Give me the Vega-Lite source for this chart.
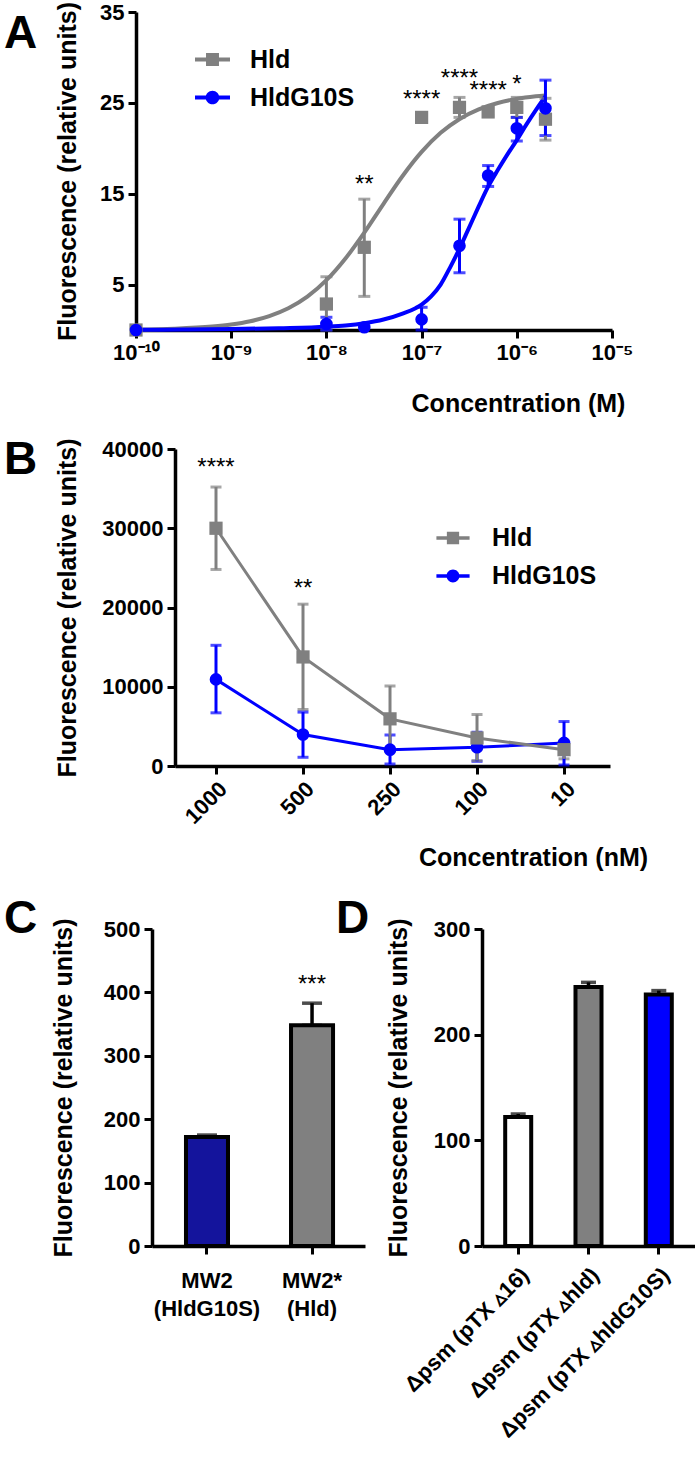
{
 "$schema": "https://vega.github.io/schema/vega-lite/v6.json",
 "background": "white",
 "padding": {"left": 4, "top": 1, "right": 0, "bottom": 0},
 "config": {
  "font": "Liberation Sans",
  "view": {"stroke": null},
  "axis": {"grid": false, "domainColor": "black", "domainWidth": 3.5, "tickColor": "black", "tickWidth": 3, "tickSize": 8, "labelFont": "Liberation Sans", "labelFontWeight": "bold", "labelFontSize": 22, "labelColor": "black", "labelPadding": 4, "titleFont": "Liberation Sans", "titleFontSize": 25, "titleFontWeight": "bold", "titleColor": "black", "labelOverlap": false, "labelFlush": false, "labelLimit": 400},
  "title": {"font": "Liberation Sans", "fontSize": 46, "fontWeight": "bold", "color": "black", "orient": "top", "anchor": "start", "frame": "group", "baseline": "alphabetic"},
  "text": {"font": "Liberation Sans"}
 },
 "datasets": {
  "curveA": [
   {"series":"Hld","conc":1e-10,"fit":0.055},{"series":"Hld","conc":2.512e-10,"fit":0.144},{"series":"Hld","conc":6.31e-10,"fit":0.375},{"series":"Hld","conc":1e-9,"fit":0.6},{"series":"Hld","conc":1.585e-9,"fit":0.96},{"series":"Hld","conc":2.512e-9,"fit":1.53},{"series":"Hld","conc":3.981e-9,"fit":2.39},{"series":"Hld","conc":6.31e-9,"fit":3.67},{"series":"Hld","conc":1e-8,"fit":5.48},{"series":"Hld","conc":1.585e-8,"fit":7.87},{"series":"Hld","conc":2.512e-8,"fit":10.75},{"series":"Hld","conc":3.981e-8,"fit":13.89},{"series":"Hld","conc":6.31e-8,"fit":16.95},{"series":"Hld","conc":1e-7,"fit":19.6},{"series":"Hld","conc":1.585e-7,"fit":21.7},{"series":"Hld","conc":2.512e-7,"fit":23.23},{"series":"Hld","conc":3.981e-7,"fit":24.28},{"series":"Hld","conc":6.31e-7,"fit":24.98},{"series":"Hld","conc":1e-6,"fit":25.44},{"series":"Hld","conc":1.585e-6,"fit":25.72},{"series":"Hld","conc":1.995e-6,"fit":25.82},
   {"series":"HldG10S","conc":1e-10,"fit":0.02},{"series":"HldG10S","conc":3.162e-10,"fit":0.05},{"series":"HldG10S","conc":1e-9,"fit":0.1},{"series":"HldG10S","conc":3.162e-9,"fit":0.2},{"series":"HldG10S","conc":1e-8,"fit":0.36},{"series":"HldG10S","conc":1.585e-8,"fit":0.5},{"series":"HldG10S","conc":2.512e-8,"fit":0.75},{"series":"HldG10S","conc":3.981e-8,"fit":1.15},{"series":"HldG10S","conc":6.31e-8,"fit":1.8},{"series":"HldG10S","conc":1e-7,"fit":2.8},{"series":"HldG10S","conc":1.259e-7,"fit":3.7},{"series":"HldG10S","conc":1.585e-7,"fit":5.0},{"series":"HldG10S","conc":1.995e-7,"fit":6.9},{"series":"HldG10S","conc":2.512e-7,"fit":9.0},{"series":"HldG10S","conc":3.162e-7,"fit":11.3},{"series":"HldG10S","conc":3.981e-7,"fit":13.6},{"series":"HldG10S","conc":5.012e-7,"fit":15.8},{"series":"HldG10S","conc":6.31e-7,"fit":17.6},{"series":"HldG10S","conc":7.943e-7,"fit":19.3},{"series":"HldG10S","conc":1e-6,"fit":20.9},{"series":"HldG10S","conc":1.259e-6,"fit":22.6},{"series":"HldG10S","conc":1.585e-6,"fit":24.2},{"series":"HldG10S","conc":1.995e-6,"fit":25.7}
  ],
  "ptsA": [
   {"series":"Hld","conc":1e-10,"mean":0,"lo":0,"hi":0},
   {"series":"Hld","conc":1e-8,"mean":2.86,"lo":0,"hi":5.86},
   {"series":"Hld","conc":2.5e-8,"mean":9.1,"lo":3.7,"hi":14.4},
   {"series":"Hld","conc":1e-7,"mean":23.4,"lo":23.4,"hi":23.4},
   {"series":"Hld","conc":2.5e-7,"mean":24.5,"lo":23.4,"hi":25.6},
   {"series":"Hld","conc":5e-7,"mean":24.0,"lo":23.6,"hi":24.4},
   {"series":"Hld","conc":1e-6,"mean":24.5,"lo":23.4,"hi":25.6},
   {"series":"Hld","conc":2e-6,"mean":23.2,"lo":20.9,"hi":25.5},
   {"series":"HldG10S","conc":1e-10,"mean":0,"lo":0,"hi":0},
   {"series":"HldG10S","conc":1e-8,"mean":0.66,"lo":0,"hi":1.4},
   {"series":"HldG10S","conc":2.5e-8,"mean":0.3,"lo":0.3,"hi":0.3},
   {"series":"HldG10S","conc":1e-7,"mean":1.17,"lo":0,"hi":2.5},
   {"series":"HldG10S","conc":2.5e-7,"mean":9.27,"lo":6.3,"hi":12.2},
   {"series":"HldG10S","conc":5e-7,"mean":17.0,"lo":15.8,"hi":18.1},
   {"series":"HldG10S","conc":1e-6,"mean":22.2,"lo":20.8,"hi":23.4},
   {"series":"HldG10S","conc":2e-6,"mean":24.4,"lo":21.4,"hi":27.5}
  ],
  "starsA": [
   {"conc":2.5e-8,"y":15.2,"label":"**"},
   {"conc":1e-7,"y":24.5,"label":"****"},
   {"conc":2.5e-7,"y":26.9,"label":"****"},
   {"conc":5e-7,"y":25.5,"label":"****"},
   {"conc":1e-6,"y":26.2,"label":"*"}
  ],
  "ptsB": [
   {"series":"HldG10S","conc":"1000","mean":10930,"lo":6710,"hi":15230},
   {"series":"HldG10S","conc":"500","mean":3970,"lo":1100,"hi":6800},
   {"series":"HldG10S","conc":"250","mean":2060,"lo":250,"hi":3920},
   {"series":"HldG10S","conc":"100","mean":2360,"lo":590,"hi":4260},
   {"series":"HldG10S","conc":"10","mean":2910,"lo":130,"hi":5610},
   {"series":"Hld","conc":"1000","mean":30000,"lo":24800,"hi":35200},
   {"series":"Hld","conc":"500","mean":13760,"lo":7130,"hi":20420},
   {"series":"Hld","conc":"250","mean":5950,"lo":1800,"hi":10090},
   {"series":"Hld","conc":"100","mean":3540,"lo":680,"hi":6500},
   {"series":"Hld","conc":"10","mean":2060,"lo":900,"hi":3200}
  ],
  "starsB": [
   {"conc":"1000","y":36720,"label":"****"},
   {"conc":"500","y":21500,"label":"**"}
  ],
  "barsC": [
   {"strain":"MW2|(HldG10S)","value":172,"hi":175},
   {"strain":"MW2*|(Hld)","value":348,"hi":383}
  ],
  "starsC": [
   {"strain":"MW2*|(Hld)","y":400,"label":"***"}
  ],
  "barsD": [
   {"strain":"Δpsm (pTX ▵16)","value":122,"hi":125},
   {"strain":"Δpsm (pTX ▵hld)","value":245,"hi":249.5},
   {"strain":"Δpsm (pTX ▵hldG10S)","value":238,"hi":241.7}
  ]
 },
 "columns": 1,
 "spacing": {"row": 20, "column": 0},
 "resolve": {"scale": {"color": "independent"}, "legend": {"color": "independent"}},
 "concat": [
  {
   "width": 476, "height": 318,
   "title": {"text": "A", "dx": -132, "offset": -57},
   "layer": [
    {
     "data": {"name": "curveA"},
     "mark": {"type": "line", "strokeWidth": 4, "interpolate": "monotone"},
     "encoding": {
      "x": {"field": "conc", "type": "quantitative", "title": "Concentration (M)", "scale": {"type": "log", "domain": [1e-10, 1e-5]},
            "axis": {"values": [1e-10, 1e-9, 1e-8, 1e-7, 1e-6, 1e-5], "labelExpr": "datum.value < 3e-10 ? '10⁻¹⁰' : datum.value < 3e-9 ? '10⁻⁹' : datum.value < 3e-8 ? '10⁻⁸' : datum.value < 3e-7 ? '10⁻⁷' : datum.value < 3e-6 ? '10⁻⁶' : '10⁻⁵'", "titleX": 382, "titlePadding": 28}},
      "y": {"field": "fit", "type": "quantitative", "title": "Fluorescence (relative units)", "scale": {"domain": [0, 35], "nice": false},
            "axis": {"values": [5, 15, 25, 35], "titlePadding": 19}},
      "color": {"field": "series", "type": "nominal", "scale": {"domain": ["Hld", "HldG10S"], "range": ["#808080", "#0000ff"]},
       "legend": {"title": null, "orient": "none", "legendX": 59, "legendY": 30, "padding": 0, "labelFont": "Liberation Sans", "labelFontSize": 25, "labelFontWeight": "bold", "labelColor": "black", "labelOffset": 20, "symbolSize": 1225, "rowPadding": 7, "labelLimit": 300,
        "encode": {"symbols": {"update": {
          "shape": {"signal": "datum.value === 'Hld' ? 'M-1,-0.115H1V0.115H-1Z M-0.37,-0.37H0.37V0.37H-0.37Z' : 'M-1,-0.115H1V0.115H-1Z M-0.39,0A0.39,0.39 0 1,1 0.39,0A0.39,0.39 0 1,1 -0.39,0Z'"},
          "fill": {"signal": "datum.value === 'Hld' ? '#808080' : '#0000ff'"},
          "stroke": {"value": "transparent"}, "strokeWidth": {"value": 0}, "opacity": {"value": 1}, "size": {"value": 1225}}}}}}
     }
    },
    {
     "data": {"name": "ptsA"},
     "transform": [{"filter": "datum.hi > datum.lo"}],
     "mark": {"type": "errorbar", "ticks": {"size": 12, "thickness": 3}, "rule": {"strokeWidth": 3}},
     "encoding": {
      "x": {"field": "conc", "type": "quantitative", "title": "Concentration (M)"},
      "y": {"field": "lo", "type": "quantitative", "title": "Fluorescence (relative units)"},
      "y2": {"field": "hi"},
      "color": {"field": "series", "type": "nominal"}
     }
    },
    {
     "data": {"name": "ptsA"},
     "transform": [{"filter": "datum.series === 'Hld'"}],
     "mark": {"type": "point", "shape": "square", "filled": true, "size": 175, "opacity": 1},
     "encoding": {
      "x": {"field": "conc", "type": "quantitative", "title": "Concentration (M)"},
      "y": {"field": "mean", "type": "quantitative", "title": "Fluorescence (relative units)"},
      "color": {"field": "series", "type": "nominal"}
     }
    },
    {
     "data": {"name": "ptsA"},
     "transform": [{"filter": "datum.series === 'HldG10S'"}],
     "mark": {"type": "point", "shape": "circle", "filled": true, "size": 160, "opacity": 1},
     "encoding": {
      "x": {"field": "conc", "type": "quantitative", "title": "Concentration (M)"},
      "y": {"field": "mean", "type": "quantitative", "title": "Fluorescence (relative units)"},
      "color": {"field": "series", "type": "nominal"}
     }
    },
    {
     "data": {"name": "starsA"},
     "mark": {"type": "text", "fontSize": 24, "baseline": "alphabetic", "color": "black"},
     "encoding": {
      "x": {"field": "conc", "type": "quantitative", "title": "Concentration (M)"},
      "y": {"field": "y", "type": "quantitative", "title": "Fluorescence (relative units)"},
      "text": {"field": "label"}
     }
    }
   ]
  },
  {
   "columns": 1,
   "spacing": {"row": 24, "column": 0},
   "resolve": {"scale": {"color": "independent"}, "legend": {"color": "independent"}},
   "concat": [
    {
     "width": 474, "height": 317,
     "title": {"text": "B", "dx": -132, "offset": -46},
     "layer": [
      {
       "data": {"name": "ptsB"},
       "mark": {"type": "line", "strokeWidth": 3},
       "encoding": {
        "x": {"field": "conc", "type": "ordinal", "title": "Concentration (nM)", "sort": ["1000", "500", "250", "100", "10"], "scale": {"type": "point", "padding": 0.724, "align": 0.635},
              "axis": {"labelAngle": -45, "titleX": 397, "titlePadding": 18, "domainDash": [0, 39, 2000]}},
        "y": {"field": "mean", "type": "quantitative", "title": "Fluorescence (relative units)", "scale": {"domain": [0, 40000], "nice": false},
              "axis": {"values": [0, 10000, 20000, 30000, 40000], "format": "d", "titlePadding": 21, "offset": -39}},
        "color": {"field": "series", "type": "nominal", "scale": {"domain": ["Hld", "HldG10S"], "range": ["#808080", "#0000ff"]},
         "legend": {"title": null, "orient": "none", "legendX": 300, "legendY": 72, "padding": 0, "labelFont": "Liberation Sans", "labelFontSize": 25, "labelFontWeight": "bold", "labelColor": "black", "labelOffset": 22, "symbolSize": 1100, "rowPadding": 8, "labelLimit": 300,
          "encode": {"symbols": {"update": {
            "shape": {"signal": "datum.value === 'Hld' ? 'M-1,-0.11H1V0.11H-1Z M-0.37,-0.37H0.37V0.37H-0.37Z' : 'M-1,-0.11H1V0.11H-1Z M-0.39,0A0.39,0.39 0 1,1 0.39,0A0.39,0.39 0 1,1 -0.39,0Z'"},
            "fill": {"signal": "datum.value === 'Hld' ? '#808080' : '#0000ff'"},
            "stroke": {"value": "transparent"}, "strokeWidth": {"value": 0}, "opacity": {"value": 1}, "size": {"value": 1100}}}}}}
       }
      },
      {
       "data": {"name": "ptsB"},
       "mark": {"type": "errorbar", "ticks": {"size": 11, "thickness": 3}, "rule": {"strokeWidth": 3}},
       "encoding": {
        "x": {"field": "conc", "type": "ordinal", "title": "Concentration (nM)", "sort": ["1000", "500", "250", "100", "10"]},
        "y": {"field": "lo", "type": "quantitative", "title": "Fluorescence (relative units)"},
        "y2": {"field": "hi"},
        "color": {"field": "series", "type": "nominal"}
       }
      },
      {
       "data": {"name": "ptsB"},
       "transform": [{"filter": "datum.series === 'HldG10S'"}],
       "mark": {"type": "point", "shape": "circle", "filled": true, "size": 160, "opacity": 1},
       "encoding": {
        "x": {"field": "conc", "type": "ordinal", "title": "Concentration (nM)", "sort": ["1000", "500", "250", "100", "10"]},
        "y": {"field": "mean", "type": "quantitative", "title": "Fluorescence (relative units)"},
        "color": {"field": "series", "type": "nominal"}
       }
      },
      {
       "data": {"name": "ptsB"},
       "transform": [{"filter": "datum.series === 'Hld'"}],
       "mark": {"type": "point", "shape": "square", "filled": true, "size": 175, "opacity": 1},
       "encoding": {
        "x": {"field": "conc", "type": "ordinal", "title": "Concentration (nM)", "sort": ["1000", "500", "250", "100", "10"]},
        "y": {"field": "mean", "type": "quantitative", "title": "Fluorescence (relative units)"},
        "color": {"field": "series", "type": "nominal"}
       }
      },
      {
       "data": {"name": "starsB"},
       "mark": {"type": "text", "fontSize": 24, "baseline": "alphabetic", "color": "black"},
       "encoding": {
        "x": {"field": "conc", "type": "ordinal", "title": "Concentration (nM)", "sort": ["1000", "500", "250", "100", "10"]},
        "y": {"field": "y", "type": "quantitative", "title": "Fluorescence (relative units)"},
        "text": {"field": "label"}
       }
      }
     ]
    },
    {
     "columns": 2,
     "spacing": {"row": 0, "column": -29},
     "resolve": {"scale": {"color": "independent"}, "legend": {"color": "independent"}},
     "concat": [
      {
       "width": 229, "height": 317,
       "title": {"text": "C", "dx": -132, "offset": -25},
       "layer": [
        {
         "data": {"name": "barsC"},
         "mark": {"type": "errorbar", "ticks": {"size": 20, "thickness": 3.5}, "rule": {"strokeWidth": 3.5}, "color": "black"},
         "encoding": {
          "x": {"field": "strain", "type": "nominal", "title": null, "sort": null, "scale": {"paddingInner": 0.6, "paddingOuter": 0.39, "align": 0.61},
                "axis": {"labelAngle": 0, "labelExpr": "split(datum.label, '|')", "labelLineHeight": 28, "labelPadding": 16, "domainDash": [0, 16, 2000]}},
          "y": {"field": "value", "type": "quantitative", "title": "Fluorescence (relative units)", "scale": {"domain": [0, 500], "nice": false},
                "axis": {"values": [0, 100, 200, 300, 400, 500], "titlePadding": 27, "offset": -16}},
          "y2": {"field": "hi"}
         }
        },
        {
         "data": {"name": "barsC"},
         "mark": {"type": "bar", "stroke": "black", "strokeWidth": 4},
         "encoding": {
          "x": {"field": "strain", "type": "nominal", "title": null, "sort": null},
          "y": {"field": "value", "type": "quantitative", "title": "Fluorescence (relative units)"},
          "color": {"field": "strain", "type": "nominal", "scale": {"domain": ["MW2|(HldG10S)", "MW2*|(Hld)"], "range": ["#14149c", "#808080"]}, "legend": null}
         }
        },
        {
         "data": {"name": "starsC"},
         "mark": {"type": "text", "fontSize": 24, "baseline": "alphabetic", "color": "black"},
         "encoding": {
          "x": {"field": "strain", "type": "nominal", "title": null, "sort": null},
          "y": {"field": "y", "type": "quantitative", "title": "Fluorescence (relative units)"},
          "text": {"field": "label"}
         }
        }
       ]
      },
      {
       "width": 213, "height": 317,
       "title": {"text": "D", "dx": -146, "offset": -25},
       "layer": [
        {
         "data": {"name": "barsD"},
         "mark": {"type": "errorbar", "ticks": {"size": 15, "thickness": 3.5}, "rule": {"strokeWidth": 3.5}, "color": "black"},
         "encoding": {
          "x": {"field": "strain", "type": "nominal", "title": null, "sort": null, "scale": {"paddingInner": 0.63, "paddingOuter": 0.33},
                "axis": {"labelAngle": -45, "labelPadding": 10}},
          "y": {"field": "value", "type": "quantitative", "title": "Fluorescence (relative units)", "scale": {"domain": [0, 300], "nice": false},
                "axis": {"values": [0, 100, 200, 300], "titlePadding": 22}},
          "y2": {"field": "hi"}
         }
        },
        {
         "data": {"name": "barsD"},
         "mark": {"type": "bar", "stroke": "black", "strokeWidth": 4},
         "encoding": {
          "x": {"field": "strain", "type": "nominal", "title": null, "sort": null},
          "y": {"field": "value", "type": "quantitative", "title": "Fluorescence (relative units)"},
          "color": {"field": "strain", "type": "nominal", "scale": {"domain": ["Δpsm (pTX ▵16)", "Δpsm (pTX ▵hld)", "Δpsm (pTX ▵hldG10S)"], "range": ["#ffffff", "#808080", "#0000ff"]}, "legend": null}
         }
        }
       ]
      }
     ]
    }
   ]
  }
 ]
}
